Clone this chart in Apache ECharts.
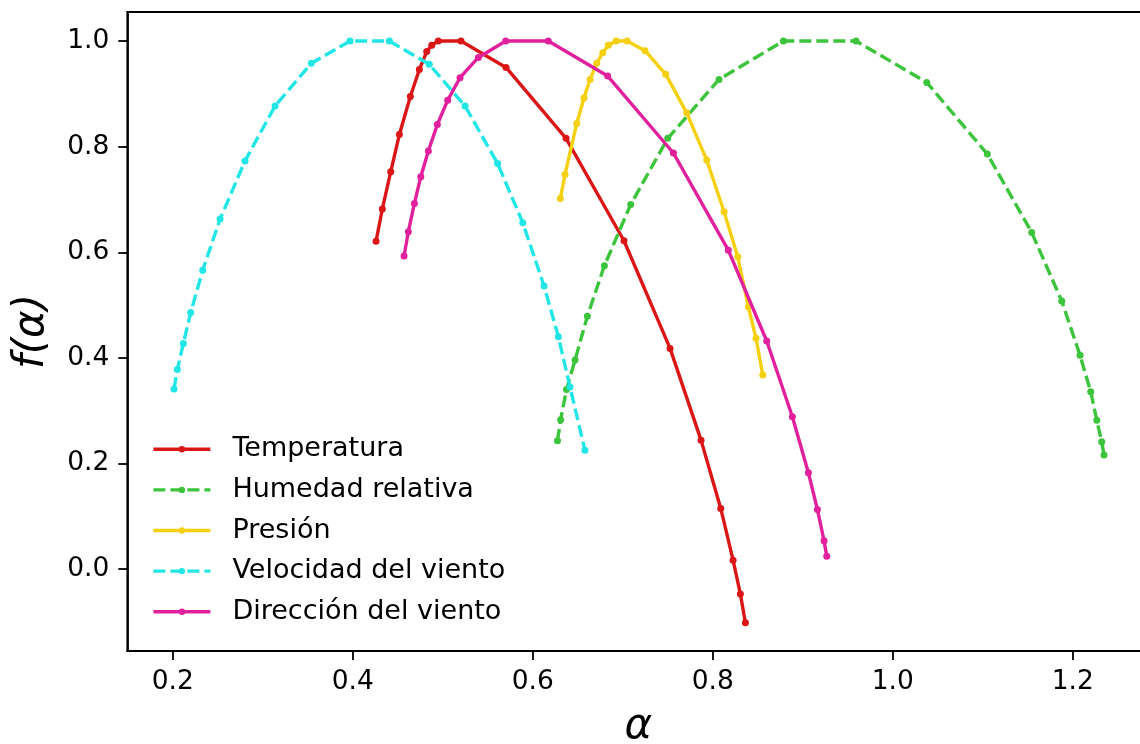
<!DOCTYPE html>
<html>
<head>
<meta charset="utf-8">
<script src="https://cdn.jsdelivr.net/npm/echarts@6/dist/echarts.min.js"></script>
<style>
html,body{margin:0;padding:0;background:#fff;}
#chart{width:1140px;height:744px;}
</style>
</head>
<body>
<div id="chart"></div>
<script>
// Series names
const seriesNames = ['Temperatura', 'Humedad relativa', 'Presión', 'Velocidad del viento', 'Dirección del viento'];

// [alpha, f(alpha)] pairs
const temperatura = [
  [0.4259, 0.621], [0.4329, 0.682], [0.4422, 0.7525], [0.4518, 0.823], [0.464, 0.895],
  [0.474, 0.946], [0.4822, 0.98], [0.4878, 0.992], [0.495, 1.0], [0.5203, 1.0],
  [0.5703, 0.950], [0.637, 0.8157], [0.7014, 0.6218], [0.7526, 0.418], [0.787, 0.2443],
  [0.8089, 0.115], [0.8226, 0.017], [0.8307, -0.047], [0.8363, -0.1017]
];
const humedad = [
  [0.6275, 0.243], [0.631, 0.283], [0.6375, 0.34], [0.647, 0.396], [0.6607, 0.479],
  [0.6796, 0.5745], [0.7089, 0.6907], [0.75, 0.8157], [0.807, 0.9274], [0.8785, 1.0],
  [0.9592, 1.0], [1.0378, 0.9217], [1.1051, 0.786], [1.1544, 0.6377], [1.1878, 0.5076],
  [1.2081, 0.405], [1.22, 0.336], [1.2267, 0.282], [1.2322, 0.241], [1.2348, 0.216]
];
const presion = [
  [0.6307, 0.702], [0.6359, 0.7475], [0.6489, 0.844], [0.657, 0.8926], [0.6637, 0.9274],
  [0.6711, 0.958], [0.6778, 0.978], [0.684, 0.992], [0.6926, 1.0], [0.705, 1.0],
  [0.7248, 0.9817], [0.7478, 0.937], [0.7711, 0.864], [0.7933, 0.7746], [0.8126, 0.6767],
  [0.8278, 0.5915], [0.8396, 0.4968], [0.8481, 0.437], [0.8556, 0.3674]
];
const velocidad = [
  [0.2014, 0.341], [0.2051, 0.378], [0.2118, 0.4275], [0.220, 0.486], [0.2333, 0.566],
  [0.2526, 0.663], [0.2803, 0.773], [0.3137, 0.877], [0.354, 0.958], [0.397, 1.0],
  [0.4407, 1.0], [0.485, 0.956], [0.5248, 0.877], [0.561, 0.768], [0.5889, 0.656],
  [0.6126, 0.536], [0.6285, 0.44], [0.6414, 0.345], [0.658, 0.225]
];
const direccion = [
  [0.457, 0.593], [0.4618, 0.639], [0.4685, 0.6925], [0.4756, 0.743], [0.484, 0.7917],
  [0.494, 0.842], [0.5055, 0.888], [0.5192, 0.9306], [0.5396, 0.969], [0.570, 1.0],
  [0.6173, 1.0], [0.6833, 0.9337], [0.7563, 0.788], [0.8173, 0.604], [0.86, 0.432],
  [0.8885, 0.2885], [0.9063, 0.1824], [0.9163, 0.113], [0.9237, 0.0536], [0.9267, 0.0246]
];

// Tick values
const xTicks = [0.2, 0.4, 0.6, 0.8, 1.0, 1.2];
const yTicks = [0.0, 0.2, 0.4, 0.6, 0.8, 1.0];

const allData = [temperatura, humedad, presion, velocidad, direccion];
const colors = ['#da1616', '#3cc43c', '#f4d010', '#22e6e6', '#e0209c'];
const dashed = [false, true, false, true, false];

const FONT = 'DejaVu Sans';

const chart = echarts.init(document.getElementById('chart'), null, {renderer: 'canvas'});

const series = seriesNames.map((name, i) => ({
  name: name,
  type: 'line',
  data: allData[i],
  symbol: 'circle',
  symbolSize: 7,
  showSymbol: true,
  color: colors[i],
  itemStyle: {color: colors[i]},
  lineStyle: {
    color: colors[i],
    width: 3.4,
    type: dashed[i] ? [12, 5] : 'solid'
  },
  emphasis: {disabled: true},
  z: 2 + i
}));

const axisCommon = {
  axisLine: {show: true, onZero: false, lineStyle: {color: '#000', width: 1.8}},
  splitLine: {show: false}
};

chart.setOption({
  animation: false,
  backgroundColor: '#ffffff',
  grid: {
    left: 127.3, top: 12, width: 1022.2, height: 639,
    outerBoundsMode: 'none',
    containLabel: false,
    show: true, borderColor: '#000', borderWidth: 1.8, backgroundColor: 'transparent'
  },
  legend: {
    orient: 'vertical',
    left: 151.7,
    top: 434.3,
    padding: 0,
    itemWidth: 57,
    itemHeight: 8,
    itemGap: 10.6,
    data: seriesNames,
    lineStyle: {width: 3.4},
    textStyle: {
      fontFamily: FONT, fontSize: 27, color: '#000', lineHeight: 30,
      padding: [0, 0, 0, 17]
    }
  },
  xAxis: Object.assign({
    type: 'value',
    min: 0.1495, max: 1.2853,
    name: 'α',
    nameLocation: 'middle',
    nameGap: 55,
    nameTextStyle: {fontFamily: FONT, fontSize: 42, fontStyle: 'italic', color: '#000', lineHeight: 42},
    axisTick: {show: true, length: 9, lineStyle: {color: '#000', width: 1.8}, customValues: xTicks},
    axisLabel: {
      fontFamily: FONT, fontSize: 26.5, color: '#000', margin: 18,
      customValues: xTicks,
      formatter: v => v.toFixed(1)
    }
  }, axisCommon),
  yAxis: Object.assign({
    type: 'value',
    min: -0.155, max: 1.055,
    name: 'f(α)',
    nameLocation: 'middle',
    nameGap: 74,
    nameRotate: 90,
    nameTextStyle: {fontFamily: FONT, fontSize: 42, fontStyle: 'italic', color: '#000', lineHeight: 42},
    axisTick: {show: true, length: 9, lineStyle: {color: '#000', width: 1.8}, customValues: yTicks},
    axisLabel: {
      fontFamily: FONT, fontSize: 26.5, color: '#000', margin: 18,
      customValues: yTicks,
      formatter: v => v.toFixed(1)
    }
  }, axisCommon),
  series: series
});
</script>
</body>
</html>
